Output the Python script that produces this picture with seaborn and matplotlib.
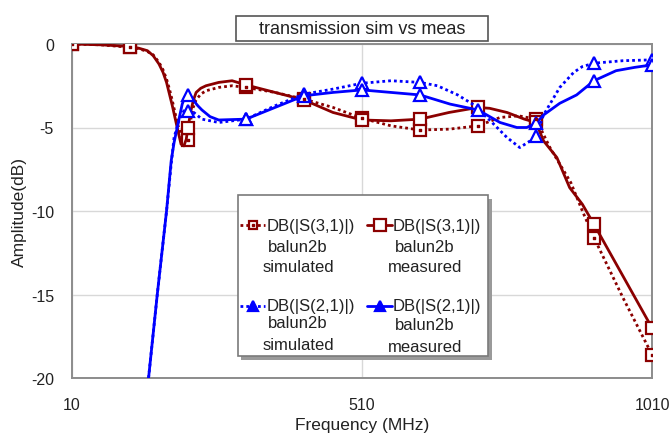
import numpy as np
import pandas as pd
import seaborn as sns
import matplotlib
matplotlib.use("Agg")
import matplotlib.pyplot as plt
from matplotlib.lines import Line2D
from matplotlib.patches import Rectangle

# ---- data (MHz, dB) ----
freq_s31_sim = [10, 60, 110, 125, 140, 150, 160, 167, 173, 178, 183, 192, 200, 210, 215, 219,
                224, 232, 241, 263, 286, 310, 360, 410, 460, 510, 560, 610, 660, 710, 748,
                780, 810, 834, 846, 870, 890, 910, 960, 1010]
db_s31_sim = [0.0, -0.05, -0.2, -0.28, -0.45, -0.65, -1.1, -1.55, -2.1, -2.7, -3.4, -4.8,
              -5.6, -5.75, -4.5, -3.8, -3.35, -3.0, -2.8, -2.6, -2.5, -2.6, -2.9, -3.3,
              -3.8, -4.45, -4.9, -5.15, -5.1, -4.9, -4.4, -4.3, -4.5, -6.2, -6.9, -8.3,
              -10.0, -11.6, -15.2, -18.6]

freq_s31_meas = [10, 60, 110, 125, 140, 150, 160, 167, 173, 178, 183, 192, 198, 203, 207,
                 210, 215, 219, 224, 232, 241, 263, 286, 310, 360, 410, 460, 510, 560, 610,
                 660, 710, 730, 760, 790, 810, 823, 846, 868, 890, 910, 960, 1010]
db_s31_meas = [0.0, -0.05, -0.15, -0.25, -0.4, -0.7, -1.2, -1.7, -2.3, -3.0, -3.7, -5.1,
               -6.0, -6.1, -5.7, -5.0, -4.0, -3.4, -2.9, -2.65, -2.5, -2.3, -2.2, -2.45,
               -2.9, -3.35, -4.1, -4.55, -4.6, -4.5, -4.1, -3.8, -3.85, -4.1, -4.5, -4.7,
               -5.8, -6.8, -8.6, -9.6, -10.8, -13.9, -17.0]

freq_s21_sim = [142, 157, 173, 181, 186, 195, 203, 210, 220, 234, 263, 310, 360, 410, 460,
                510, 560, 610, 640, 675, 703, 730, 760, 782, 800, 810, 823, 851, 875, 890,
                910, 960, 1010]
db_s21_sim = [-20.0, -15.0, -10.0, -7.2, -5.6, -4.5, -4.0, -4.0, -4.1, -4.5, -4.7, -4.5,
              -3.7, -3.0, -2.7, -2.35, -2.2, -2.3, -2.5, -3.05, -3.65, -4.55, -5.6, -6.2,
              -5.8, -5.5, -4.25, -2.6, -1.7, -1.35, -1.15, -1.0, -0.95]

freq_s21_meas = [142, 157, 173, 181, 186, 192, 200, 205, 210, 215, 220, 227, 234, 248, 263,
                 310, 360, 410, 460, 510, 560, 610, 662, 710, 748, 777, 794, 810, 823, 851,
                 880, 910, 948, 980, 1010]
db_s21_meas = [-20.0, -15.0, -10.0, -7.0, -5.9, -4.9, -3.6, -3.15, -3.05, -3.15, -3.4, -3.7,
               -3.95, -4.35, -4.55, -4.5, -3.8, -3.1, -2.9, -2.75, -2.9, -3.05, -3.6, -3.95,
               -4.7, -5.0, -5.0, -4.75, -4.25, -3.55, -3.05, -2.2, -1.6, -1.4, -1.25]

x_ticks = [10, 510, 1010]
y_ticks = [0, -5, -10, -15, -20]
title = "transmission sim vs meas"

RED = "#8b0000"
BLUE = "#0000ff"
DOTS = (0, (1, 1.1))
INK = "#222222"

sns.set_theme(style="white")
plt.rcParams["font.family"] = ["Liberation Sans", "DejaVu Sans"]

W, H = 672, 439
fig = plt.figure(figsize=(W / 100, H / 100), dpi=100, facecolor="white")
L, R, T, B = 72, 652, 45, 379
ax = fig.add_axes([L / W, 1 - B / H, (R - L) / W, (B - T) / H])


def marks(freqs):
    return [i for i, f in enumerate(freqs) if (f - 10) % 100 == 0]


def draw(freqs, vals, color, ls, marker, ms):
    df = pd.DataFrame({"f": freqs, "db": vals})
    sns.lineplot(data=df, x="f", y="db", ax=ax, color=color, linestyle=ls, lw=2.0,
                 marker=marker, markevery=marks(freqs), markersize=ms,
                 markerfacecolor="white", markeredgecolor=color, markeredgewidth=1.6,
                 solid_joinstyle="round", sort=False, estimator=None, zorder=3)


draw(freq_s31_sim, db_s31_sim, RED, DOTS, "s", 8)
draw(freq_s31_meas, db_s31_meas, RED, "-", "s", 9)
draw(freq_s21_sim, db_s21_sim, BLUE, DOTS, "^", 9)
draw(freq_s21_meas, db_s21_meas, BLUE, "-", "^", 9)

# small centre dot inside the simulated S31 squares
idx = marks(freq_s31_sim)
ax.scatter(np.array(freq_s31_sim)[idx], np.array(db_s31_sim)[idx], marker="s", s=4,
           color=RED, zorder=4)

ax.set_xlim(10, 1010)
ax.set_ylim(-20, 0)
ax.set_xticks(x_ticks)
ax.set_xticklabels([str(v) for v in x_ticks])
ax.set_yticks(y_ticks)
ax.set_yticklabels([str(v) for v in y_ticks])
ax.tick_params(axis="both", length=0, labelsize=11.5, colors=INK)
ax.tick_params(axis="x", pad=14)
ax.tick_params(axis="y", pad=13)
ax.grid(True, color="#d8d8d8", lw=1.0, zorder=0)
for s in ax.spines.values():
    s.set_color("#8c8c8c")
    s.set_linewidth(1.4)

ax.set_xlabel("Frequency (MHz)", fontsize=12.5, color=INK)
ax.set_ylabel("Amplitude(dB)", fontsize=12.5, color=INK)
ax.xaxis.set_label_coords(0.5, (B - 418) / (B - T))
ax.yaxis.set_label_coords((27 - L) / (R - L), 0.5)

# title box
fig.patches.append(Rectangle((236 / W, 1 - 42 / H), 252 / W, 25 / H, transform=fig.transFigure,
                             facecolor="white", edgecolor="#555555", lw=1.2))
fig.text(362 / W, 1 - 29.5 / H, title, ha="center", va="center", fontsize=13, color=INK)


# legend drawn in pixel space
def ax_xy(px, py):
    return (px - L) / (R - L), (B - py) / (B - T)


def rect(x0, y0, x1, y1, **kw):
    ax0, ay1 = ax_xy(x0, y1)
    ax1, ay0 = ax_xy(x1, y0)
    ax.add_patch(Rectangle((ax0, ay1), ax1 - ax0, ay0 - ay1, transform=ax.transAxes,
                           clip_on=False, **kw))


rect(241, 200, 492, 361, facecolor="#9a9a9a", edgecolor="none", zorder=9)
rect(238, 196, 488, 357, facecolor="white", edgecolor="#7a7a7a", lw=1.2, zorder=10)

entries = [
    (240, 265, 267, 298, (226, 247, 268), "DB(|S(3,1)|)", "simulated", RED, DOTS, "s", 6, "white"),
    (367, 392, 393, 425, (226, 247, 268), "DB(|S(3,1)|)", "measured", RED, "-", "s", 8, "white"),
    (240, 265, 267, 298, (307, 324, 345), "DB(|S(2,1)|)", "simulated", BLUE, DOTS, "^", 7, BLUE),
    (367, 392, 393, 425, (307, 325, 347), "DB(|S(2,1)|)", "measured", BLUE, "-", "^", 7, BLUE),
]
for hx0, hx1, tx, cx, ys, lab, kind, col, ls, mk, ms, mfc in entries:
    xa0, ya = ax_xy(hx0, ys[0])
    xa1, _ = ax_xy(hx1, ys[0])
    ax.add_line(Line2D([xa0, xa1], [ya, ya], transform=ax.transAxes, color=col, ls=ls, lw=2,
                       clip_on=False, zorder=11))
    ax.add_line(Line2D([(xa0 + xa1) / 2], [ya], transform=ax.transAxes, color=col, marker=mk,
                       ms=ms, mfc=mfc, mec=col, mew=1.6, clip_on=False, zorder=12))
    if mk == "s" and ls == DOTS:
        ax.add_line(Line2D([(xa0 + xa1) / 2], [ya], transform=ax.transAxes, color=col,
                           marker="s", ms=2, clip_on=False, zorder=13))
    ax.text(*ax_xy(tx, ys[0]), lab, transform=ax.transAxes, ha="left", va="center",
            fontsize=12, color=INK, zorder=12)
    ax.text(*ax_xy(cx, ys[1]), "balun2b", transform=ax.transAxes, ha="center", va="center",
            fontsize=12, color=INK, zorder=12)
    ax.text(*ax_xy(cx, ys[2]), kind, transform=ax.transAxes, ha="center", va="center",
            fontsize=12, color=INK, zorder=12)

fig.savefig("out.png", dpi=100, facecolor="white")
